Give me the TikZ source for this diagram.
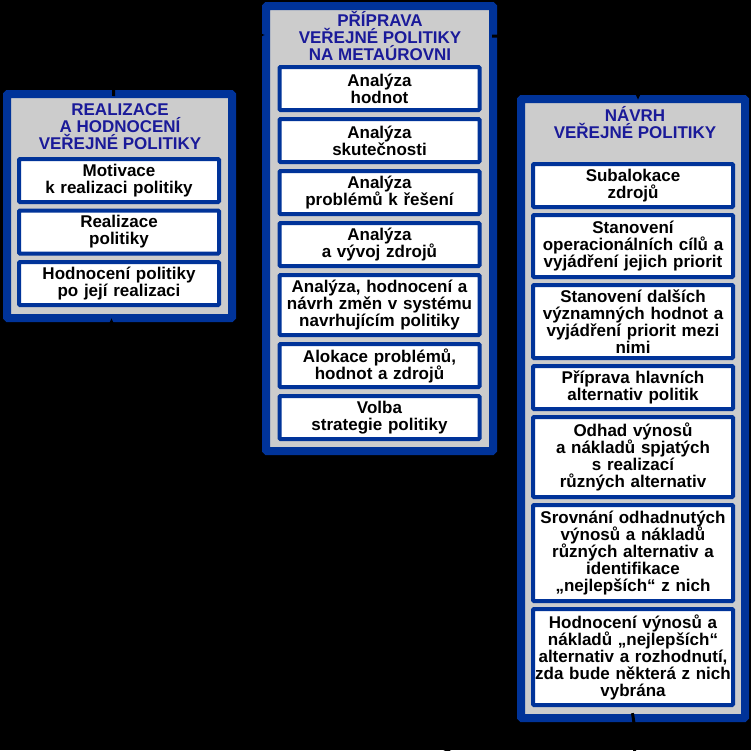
\documentclass[tikz,border=0pt]{standalone}
\usepackage{fontspec}
\setmainfont{Liberation Sans}
\usepackage{tikz}
\usetikzlibrary{arrows.meta,positioning}
\definecolor{panelblue}{HTML}{003399}
\definecolor{titleblue}{HTML}{1A1A99}
\definecolor{panelgray}{HTML}{CCCCCC}
\newcommand{\boxfont}{\bfseries\fontsize{17}{17}\selectfont\lineskiplimit=-6pt}

\begin{document}
\begin{tikzpicture}[x=1pt,y=-1pt,
  panel/.style={draw=panelblue,line width=8pt,fill=panelgray,rounded corners=1pt,inner sep=0pt},
  head/.style={anchor=north,align=center,inner sep=0pt,text=titleblue,font=\boxfont},
  item/.style={draw=panelblue,line width=4pt,fill=white,rounded corners=1pt,align=center,text width=196pt,inner sep=0pt,minimum width=200pt,minimum height=43pt,font=\boxfont},
  ar/.style={-{Latex[length=9pt,width=10pt]},draw=black,line width=3pt}
]
\path[use as bounding box,fill=black] (0,0) rectangle (751,750);

% the three phases
\node[panel,minimum width=225pt,minimum height=224pt] (real) at (119.5,206) {};
\node[panel,minimum width=227pt,minimum height=445pt] (prep) at (379.5,228.5) {};
\node[panel,minimum width=224pt,minimum height=619pt] (design) at (633,408.5) {};

\node[head] (realtitle) at (120,103) {REALIZACE\\A HODNOCENÍ\\VEŘEJNÉ POLITIKY};
\node[head] (preptitle) at (380,11) {PŘÍPRAVA\\VEŘEJNÉ POLITIKY\\NA METAÚROVNI};
\node[head] (designtitle) at (635,106) {NÁVRH\\VEŘEJNÉ POLITIKY};

% realizace
\node[item,anchor=north] (r1) at (119,157) {Motivace\\k realizaci politiky};
\node[item,below=4.5pt of r1] (r2) {Realizace\\politiky};
\node[item,below=4.5pt of r2] (r3) {Hodnocení politiky\\po její realizaci};

% priprava
\node[item,anchor=north] (p1) at (379.5,65) {Analýza\\hodnot};
\node[item,below=5pt of p1] (p2) {Analýza\\skutečnosti};
\node[item,below=5pt of p2] (p3) {Analýza\\problémů k řešení};
\node[item,below=5pt of p3] (p4) {Analýza\\a vývoj zdrojů};
\node[item,below=5pt of p4,minimum height=60pt] (p5) {Analýza, hodnocení a\\návrh změn v systému\\navrhujícím politiky};
\node[item,below=5pt of p5] (p6) {Alokace problémů,\\hodnot a zdrojů};
\node[item,below=5pt of p6] (p7) {Volba\\strategie politiky};

% navrh
\node[item,anchor=north] (d1) at (633,162) {Subalokace\\zdrojů};
\node[item,below=4pt of d1,minimum height=62pt] (d2) {Stanovení\\operacionálních cílů a\\vyjádření jejich priorit};
\node[item,below=4pt of d2,minimum height=73pt] (d3) {Stanovení dalších\\významných hodnot a\\vyjádření priorit mezi\\nimi};
\node[item,below=4pt of d3] (d4) {Příprava hlavních\\alternativ politik};
\node[item,below=4pt of d4,minimum height=80pt] (d5) {Odhad výnosů\\a nákladů spjatých\\s realizací\\různých alternativ};
\node[item,below=4pt of d5,minimum height=96pt] (d6) {Srovnání odhadnutých\\výnosů a nákladů\\různých alternativ a\\identifikace\\„nejlepších“ z nich};
\node[item,below=4pt of d6,minimum height=96pt] (d7) {Hodnocení výnosů a\\nákladů „nejlepších“\\alternativ a rozhodnutí,\\zda bude některá z nich\\vybrána};

% cycle
\draw[ar,shorten <=-6pt,shorten >=-3pt] ([xshift=-6pt]real.north) to[out=90,in=180] ([yshift=-33pt]prep.north west);
\draw[ar,shorten <=-5pt,shorten >=-5pt] ([yshift=-34pt]prep.north east) to[out=0,in=90] ([xshift=5pt]design.north);
\draw[ar,shorten <=-9pt,shorten >=-4pt] ([xshift=1pt]design.south) to[out=-80,in=-90] ([xshift=-8pt]real.south);
\end{tikzpicture}
\end{document}
